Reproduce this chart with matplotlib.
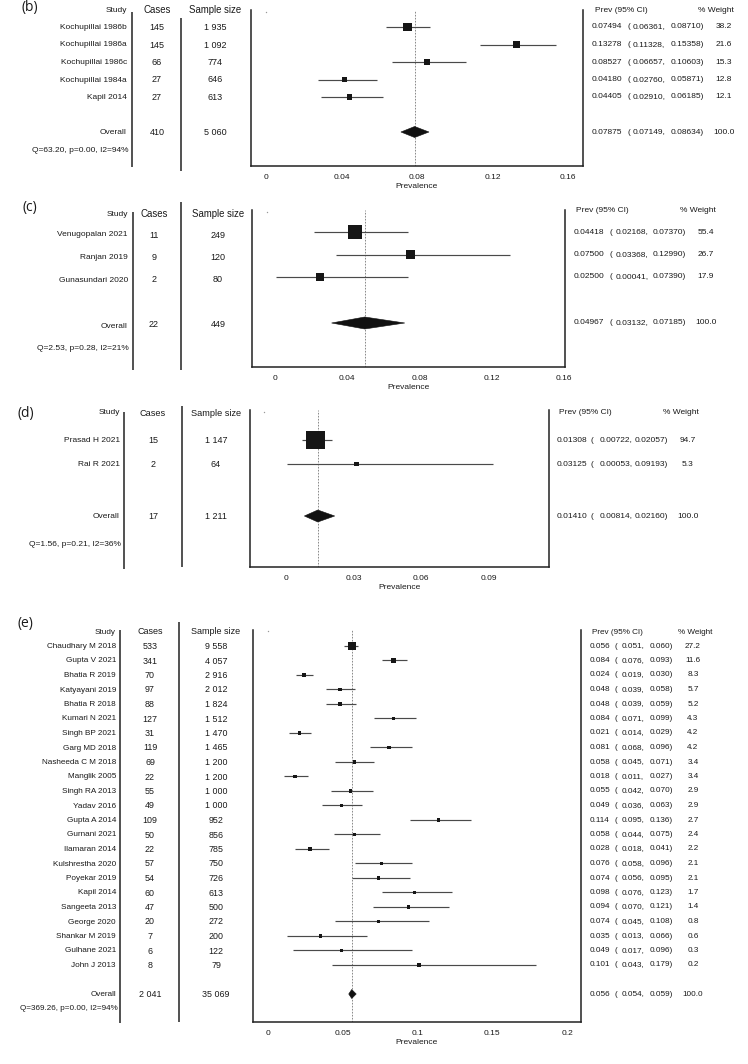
import numpy as np
import matplotlib
matplotlib.use('Agg')
import matplotlib.pyplot as plt
from matplotlib.patches import Polygon

plt.rcParams['font.family'] = ['Liberation Sans', 'DejaVu Sans']

# ---------------- DATA ----------------
# Panel (b)
studies_b = ["Kochupillai 1986b", "Kochupillai 1986a", "Kochupillai 1986c", "Kochupillai 1984a", "Kapil 2014"]
cases_b = ["145", "145", "66", "27", "27"]
sample_b = ["1 935", "1 092", "774", "646", "613"]
prev_b = [0.07494, 0.13278, 0.08527, 0.04180, 0.04405]
lo_b = [0.06361, 0.11328, 0.06657, 0.02760, 0.02910]
hi_b = [0.08710, 0.15358, 0.10603, 0.05871, 0.06185]
weight_b = [38.2, 21.6, 15.3, 12.8, 12.1]
overall_b = dict(cases="410", sample="5 060", prev=0.07875, lo=0.07149, hi=0.08634, weight=100.0,
                 q="Q=63.20, p=0.00, I2=94%")
ticks_b = [0, 0.04, 0.08, 0.12, 0.16]
ticklabels_b = ["0", "0.04", "0.08", "0.12", "0.16"]

# Panel (c)
studies_c = ["Venugopalan 2021", "Ranjan 2019", "Gunasundari 2020"]
cases_c = ["11", "9", "2"]
sample_c = ["249", "120", "80"]
prev_c = [0.04418, 0.07500, 0.02500]
lo_c = [0.02168, 0.03368, 0.00041]
hi_c = [0.07370, 0.12990, 0.07390]
weight_c = [55.4, 26.7, 17.9]
overall_c = dict(cases="22", sample="449", prev=0.04967, lo=0.03132, hi=0.07185, weight=100.0,
                 q="Q=2.53, p=0.28, I2=21%")
ticks_c = [0, 0.04, 0.08, 0.12, 0.16]
ticklabels_c = ["0", "0.04", "0.08", "0.12", "0.16"]

# Panel (d)
studies_d = ["Prasad H 2021", "Rai R 2021"]
cases_d = ["15", "2"]
sample_d = ["1 147", "64"]
prev_d = [0.01308, 0.03125]
lo_d = [0.00722, 0.00053]
hi_d = [0.02057, 0.09193]
weight_d = [94.7, 5.3]
overall_d = dict(cases="17", sample="1 211", prev=0.01410, lo=0.00814, hi=0.02160, weight=100.0,
                 q="Q=1.56, p=0.21, I2=36%")
ticks_d = [0, 0.03, 0.06, 0.09]
ticklabels_d = ["0", "0.03", "0.06", "0.09"]

# Panel (e)
studies_e = ["Chaudhary M 2018", "Gupta V 2021", "Bhatia R 2019", "Katyayani 2019", "Bhatia R 2018",
             "Kumari N 2021", "Singh BP 2021", "Garg MD 2018", "Nasheeda C M 2018", "Manglik 2005",
             "Singh RA 2013", "Yadav 2016", "Gupta A 2014", "Gurnani 2021", "Ilamaran 2014",
             "Kulshrestha 2020", "Poyekar 2019", "Kapil 2014", "Sangeeta 2013", "George 2020",
             "Shankar M 2019", "Gulhane 2021", "John J 2013"]
cases_e = ["533", "341", "70", "97", "88", "127", "31", "119", "69", "22", "55", "49", "109",
           "50", "22", "57", "54", "60", "47", "20", "7", "6", "8"]
sample_e = ["9 558", "4 057", "2 916", "2 012", "1 824", "1 512", "1 470", "1 465", "1 200", "1 200",
            "1 000", "1 000", "952", "856", "785", "750", "726", "613", "500", "272", "200", "122", "79"]
prev_e = [0.056, 0.084, 0.024, 0.048, 0.048, 0.084, 0.021, 0.081, 0.058, 0.018, 0.055, 0.049, 0.114,
          0.058, 0.028, 0.076, 0.074, 0.098, 0.094, 0.074, 0.035, 0.049, 0.101]
lo_e = [0.051, 0.076, 0.019, 0.039, 0.039, 0.071, 0.014, 0.068, 0.045, 0.011, 0.042, 0.036, 0.095,
        0.044, 0.018, 0.058, 0.056, 0.076, 0.070, 0.045, 0.013, 0.017, 0.043]
hi_e = [0.060, 0.093, 0.030, 0.058, 0.059, 0.099, 0.029, 0.096, 0.071, 0.027, 0.070, 0.063, 0.136,
        0.075, 0.041, 0.096, 0.095, 0.123, 0.121, 0.108, 0.066, 0.096, 0.179]
weight_e = [27.2, 11.6, 8.3, 5.7, 5.2, 4.3, 4.2, 4.2, 3.4, 3.4, 2.9, 2.9, 2.7, 2.4, 2.2, 2.1, 2.1,
            1.7, 1.4, 0.8, 0.6, 0.3, 0.2]
overall_e = dict(cases="2 041", sample="35 069", prev=0.056, lo=0.054, hi=0.059, weight=100.0,
                 q="Q=369.26, p=0.00, I2=94%")
ticks_e = [0, 0.05, 0.1, 0.15, 0.2]
ticklabels_e = ["0", "0.05", "0.1", "0.15", "0.2"]

# ---------------- LAYOUT (pixel units) ----------------
W, H = 748, 1064
TXT = '#1a1a1a'
CI_COL = '#4a4a4a'

panels = [
    dict(label="(b)", lab_xy=(22, 8), data=(studies_b, cases_b, sample_b, prev_b, lo_b, hi_b, weight_b, overall_b, ticks_b, ticklabels_b),
         fmt="%.5f", ax_box=(251, 10, 583, 166), p0=266, p1=568, tmax=0.16, dot_px=266,
         y_head=10, y_head_prev=10, y0=27, dy=17.5, y_over=132, y_q=150, txt_off=0.5,
         x_study=127, x_q=129, x_cases=157, x_sample=215,
         line1=(132, 12, 167), line2=(181, 18, 171),
         x_est=592, x_par=628, x_lo=633, x_hi=704, x_w=724, x_hprev=595, x_hw=734,
         k=1.45, dia_h=11, fs=6.0, fs_mid=6.5, fs_head=6.9),
    dict(label="(c)", lab_xy=(23, 208), data=(studies_c, cases_c, sample_c, prev_c, lo_c, hi_c, weight_c, overall_c, ticks_c, ticklabels_c),
         fmt="%.5f", ax_box=(252, 210, 565, 367), p0=275, p1=564, tmax=0.16, dot_px=267,
         y_head=214, y_head_prev=211, y0=232, dy=22.5, y_over=323, y_q=348, txt_off=3,
         x_study=128, x_q=129, x_cases=154, x_sample=218,
         line1=(133, 212, 370), line2=(181, 202, 370),
         x_est=574, x_par=610, x_lo=616, x_hi=686, x_w=706, x_hprev=576, x_hw=716,
         k=1.85, dia_h=12, fs=6.0, fs_mid=6.5, fs_head=6.9),
    dict(label="(d)", lab_xy=(18, 414), data=(studies_d, cases_d, sample_d, prev_d, lo_d, hi_d, weight_d, overall_d, ticks_d, ticklabels_d),
         fmt="%.5f", ax_box=(250, 410, 549, 567), p0=286, p1=489, tmax=0.09, dot_px=264,
         y_head=413, y_head_prev=412, y0=440, dy=24, y_over=516, y_q=544, txt_off=0.5,
         x_study=120, x_q=121, x_cases=153, x_sample=216,
         line1=(124, 412, 569), line2=(182, 406, 567),
         x_est=557, x_par=591, x_lo=600, x_hi=668, x_w=688, x_hprev=559, x_hw=699,
         k=1.95, dia_h=12, fs=6.0, fs_mid=6.5, fs_head=6.6),
    dict(label="(e)", lab_xy=(18, 624), data=(studies_e, cases_e, sample_e, prev_e, lo_e, hi_e, weight_e, overall_e, ticks_e, ticklabels_e),
         fmt="%.3f", ax_box=(253, 630, 581, 1022), p0=268, p1=567, tmax=0.2, dot_px=268,
         y_head=632, y_head_prev=632, y0=646, dy=14.5, y_over=994, y_q=1009, txt_off=0.5,
         x_study=116, x_q=118, x_cases=150, x_sample=216,
         line1=(120, 630, 1023), line2=(179, 622, 1022),
         x_est=590, x_par=615, x_lo=622, x_hi=673, x_w=693, x_hprev=592, x_hw=712,
         k=1.6, dia_h=9, fs=5.9, fs_mid=6.4, fs_head=6.5),
]

fig = plt.figure(figsize=(W / 100, H / 100), dpi=100)
ov = fig.add_axes([0, 0, 1, 1])
ov.set_xlim(0, W)
ov.set_ylim(H, 0)
ov.axis('off')


def draw_panel(P):
    studies, cases, sample, prev, lo, hi, weight, ov_d, ticks, ticklabels = P['data']
    n = len(studies)
    rows = P['y0'] + P['dy'] * np.arange(n)
    fs, fsm, fsh = P['fs'], P['fs_mid'], P['fs_head']
    to = P['txt_off']

    # panel label
    ov.text(P['lab_xy'][0], P['lab_xy'][1], P['label'], family=['Open Sans', 'DejaVu Sans'],
            fontsize=10, ha='left', va='center', color=TXT)

    # headers
    ov.text(P['x_study'], P['y_head'], "Study", ha='right', va='center', fontsize=fs, color=TXT)
    ov.text(P['x_cases'], P['y_head'], "Cases", ha='center', va='center', fontsize=fsh, color=TXT)
    ov.text(P['x_sample'], P['y_head'], "Sample size", ha='center', va='center', fontsize=fsh, color=TXT)
    ov.text(P['x_hprev'], P['y_head_prev'], "Prev (95% CI)", ha='left', va='center', fontsize=fs, color=TXT)
    ov.text(P['x_hw'], P['y_head_prev'], "% Weight", ha='right', va='center', fontsize=fs, color=TXT)

    # column lines
    for (x, y1, y2) in (P['line1'], P['line2']):
        ov.plot([x, x], [y1, y2], color='#222222', lw=1.1, solid_capstyle='butt')

    fmt = P['fmt']

    def right_cols(y, e, l, h, w):
        ov.text(P['x_est'], y, fmt % e, ha='left', va='center', fontsize=fs, color=TXT)
        ov.text(P['x_par'], y, "(", ha='left', va='center', fontsize=fs, color=TXT)
        ov.text(P['x_lo'], y, (fmt % l) + ",", ha='left', va='center', fontsize=fs, color=TXT)
        ov.text(P['x_hi'], y, (fmt % h) + ")", ha='right', va='center', fontsize=fs, color=TXT)
        ov.text(P['x_w'], y, "%.1f" % w, ha='center', va='center', fontsize=fs, color=TXT)

    for i in range(n):
        y = rows[i]
        ov.text(P['x_study'], y + to, studies[i], ha='right', va='center', fontsize=fs, color=TXT)
        ov.text(P['x_cases'], y + to, cases[i], ha='center', va='center', fontsize=fsm, color=TXT)
        ov.text(P['x_sample'], y + to, sample[i], ha='center', va='center', fontsize=fsm, color=TXT)
        right_cols(y, prev[i], lo[i], hi[i], weight[i])

    yo = P['y_over']
    ov.text(P['x_study'], yo + to, "Overall", ha='right', va='center', fontsize=fs, color=TXT)
    ov.text(P['x_cases'], yo + to * 0.5, ov_d['cases'], ha='center', va='center', fontsize=fsm, color=TXT)
    ov.text(P['x_sample'], yo + to * 0.5, ov_d['sample'], ha='center', va='center', fontsize=fsm, color=TXT)
    right_cols(yo, ov_d['prev'], ov_d['lo'], ov_d['hi'], ov_d['weight'])
    ov.text(P['x_q'], P['y_q'], ov_d['q'], ha='right', va='center', fontsize=fs, color=TXT)

    # plot axes
    l, t, r, b = P['ax_box']
    ax = fig.add_axes([l / W, 1 - b / H, (r - l) / W, (b - t) / H])
    ax.set_facecolor('none')
    scale = (P['p1'] - P['p0']) / P['tmax']
    ax.set_xlim((l - P['p0']) / scale, (r - P['p0']) / scale)
    ax.set_ylim(b, t)

    ax.axvline(ov_d['prev'], color='#777777', lw=0.6, ls=(0, (2.0, 1.6)), zorder=1)
    ax.hlines(rows, lo, hi, color=CI_COL, lw=0.85, zorder=2)
    side_px = np.maximum(P['k'] * np.sqrt(np.array(weight)), 3.3)
    ax.scatter(prev, rows, marker='s', s=(side_px * 0.72) ** 2, color='#161616',
               linewidths=0, zorder=3)
    h2 = P['dia_h'] / 2.0
    dia = Polygon([[ov_d['lo'], yo], [ov_d['prev'], yo - h2], [ov_d['hi'], yo], [ov_d['prev'], yo + h2]],
                  closed=True, facecolor='#111111', edgecolor='#111111', lw=0.4, zorder=3)
    ax.add_patch(dia)
    # tiny dot near the top of the plot area, as in the reference
    ax.plot([(P['dot_px'] - P['p0']) / scale], [t + 1.5], marker='o', ms=1.0,
            color='#999999', mew=0, clip_on=False)

    ax.spines['top'].set_visible(False)
    for s in ('left', 'bottom', 'right'):
        ax.spines[s].set_color('#222222')
        ax.spines[s].set_linewidth(1.1)
    ax.set_yticks([])
    ax.set_xticks(ticks)
    ax.set_xticklabels(ticklabels)
    ax.tick_params(axis='x', length=0, pad=5.5, labelsize=6, colors=TXT)
    ax.set_xlabel("Prevalence", fontsize=6, labelpad=1.5, color=TXT)


for P in panels:
    draw_panel(P)

fig.savefig("out.png", dpi=100, facecolor='white')
